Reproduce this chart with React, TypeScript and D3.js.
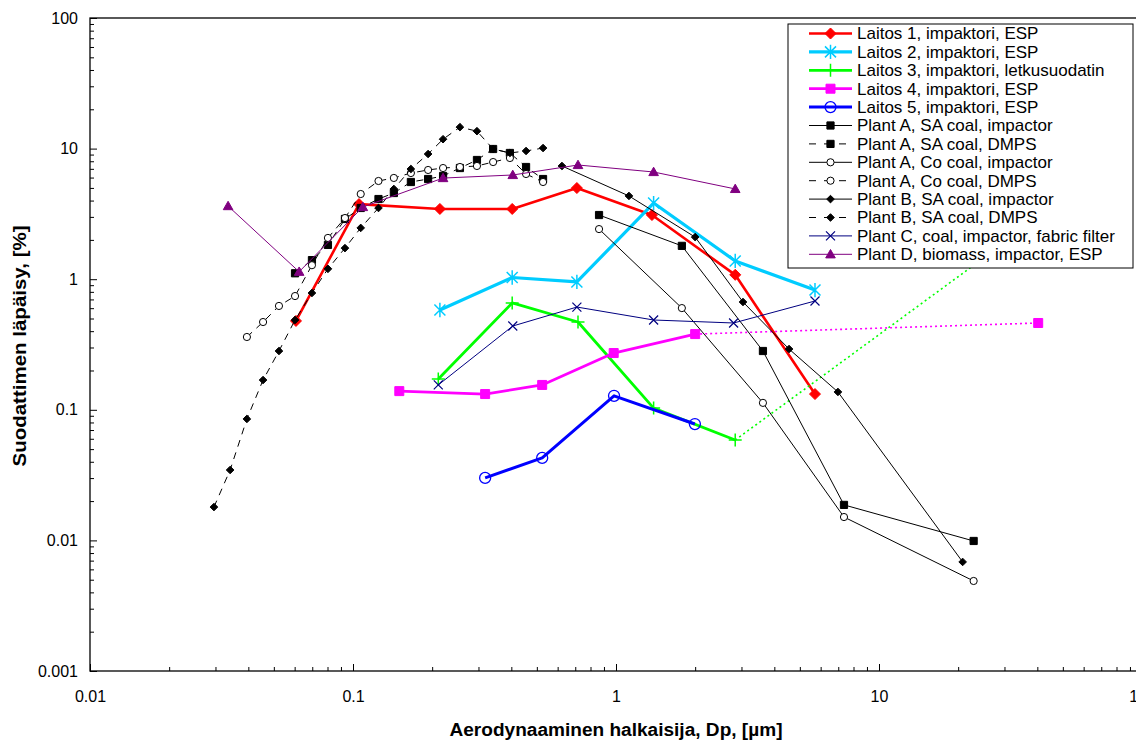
import React, { useEffect, useRef } from 'react';
import * as d3 from 'd3';

const width = 1136;
const height = 740;

// DMPS size channels (µm)
const dmpsDp = [0.0296, 0.0341, 0.0395, 0.0455, 0.0523, 0.0602, 0.0698, 0.0803, 0.0932, 0.107, 0.125,
  0.143, 0.166, 0.193, 0.220, 0.255, 0.296, 0.341, 0.395, 0.455, 0.528];

// Laitos 1-5 (impaktori)
const laitos1Dp = [0.0607, 0.1054, 0.214, 0.403, 0.71, 1.37, 2.84, 5.71];
const laitos1Pen = [0.479, 3.76, 3.45, 3.45, 4.99, 3.10, 1.08, 0.132];
const laitos2Dp = [0.214, 0.403, 0.71, 1.39, 2.84, 5.71];
const laitos2Pen = [0.581, 1.03, 0.953, 3.83, 1.38, 0.826];
const laitos3Dp = [0.211, 0.403, 0.717, 1.39, 2.84];
const laitos3Pen = [0.172, 0.658, 0.470, 0.103, 0.0587];
const laitos3TailDp = [2.84, 40.3];
const laitos3TailPen = [0.0587, 2.94];
const laitos4Dp = [0.150, 0.318, 0.524, 0.98, 2.0];
const laitos4Pen = [0.139, 0.132, 0.155, 0.272, 0.380];
const laitos4TailDp = [2.0, 40.3];
const laitos4TailPen = [0.380, 0.462];
const laitos5Dp = [0.318, 0.524, 0.983, 1.995];
const laitos5Pen = [0.0301, 0.0428, 0.128, 0.0778];

// literature plants
const plantAImpDp = [0.862, 1.78, 3.62, 7.36, 22.9];
const plantASaImpPen = [3.10, 1.80, 0.282, 0.0187, 0.0099];
const plantACoImpPen = [2.42, 0.601, 0.113, 0.0151, 0.00489];
const plantASaDmpsPen = [1.11, 1.40, 1.83, 2.89, 3.51, 4.11, 4.57, 5.55, 5.85, 6.17, 7.10, 8.18, 9.93, 9.26, 7.23, 5.85];
const plantACoDmpsPen = [0.361, 0.470, 0.624, 0.743, 1.28, 2.07, 2.94, 4.49, 5.65, 5.96, 6.50, 6.86, 7.10, 7.23, 7.36, 7.89, 8.47, 6.39, 5.55];
const plantBImpDp = [0.623, 1.12, 2.00, 3.04, 4.55, 6.98, 20.8];
const plantBImpPen = [7.36, 4.34, 2.10, 0.669, 0.292, 0.137, 0.00684];
const plantBDmpsPen = [0.0180, 0.0346, 0.0851, 0.169, 0.282, 0.487, 0.784, 1.20, 1.73, 2.47, 3.51, 4.91, 6.98,
  9.09, 11.8, 14.6, 13.6, 9.93, 9.26, 9.59, 10.1];
const plantCDp = [0.211, 0.405, 0.71, 1.39, 2.80, 5.71];
const plantCPen = [0.155, 0.438, 0.612, 0.487, 0.462, 0.681];
const plantDDp = [0.0335, 0.0624, 0.109, 0.220, 0.405, 0.717, 1.39, 2.84];
const plantDPen = [3.63, 1.14, 3.57, 5.95, 6.28, 7.49, 6.62, 4.91];

const seriesNames = [
  'Laitos 1, impaktori, ESP',
  'Laitos 2, impaktori, ESP',
  'Laitos 3, impaktori, letkusuodatin',
  'Laitos 4, impaktori, ESP',
  'Laitos 5, impaktori, ESP',
  'Plant A, SA coal, impactor',
  'Plant A, SA coal, DMPS',
  'Plant A, Co coal, impactor',
  'Plant A, Co coal, DMPS',
  'Plant B, SA coal, impactor',
  'Plant B, SA coal, DMPS',
  'Plant C, coal, impactor, fabric filter',
  'Plant D, biomass, impactor, ESP',
];

const yTicks = [0.001, 0.01, 0.1, 1, 10, 100];
const xTicks = [0.01, 0.1, 1, 10, 100];

type Marker = 'diamond' | 'square' | 'circle' | 'triangle' | 'plus' | 'x' | 'star';
interface Series {
  name: string; x: number[]; y: number[]; color: string; lw: number; dash: string | null;
  marker: Marker; ms: number; fill: string; msw: number;
  tail?: { x: number[]; y: number[] };
}

function markerPath(m: Marker, s: number) {
  switch (m) {
    case 'diamond': return `M0,${-s}L${s},0L0,${s}L${-s},0Z`;
    case 'square': return `M${-s},${-s}h${2 * s}v${2 * s}h${-2 * s}Z`;
    case 'triangle': return `M0,${-s}L${s},${s * 0.75}L${-s},${s * 0.75}Z`;
    case 'plus': return `M${-s},0H${s}M0,${-s}V${s}`;
    case 'x': return `M${-s},${-s}L${s},${s}M${-s},${s}L${s},${-s}`;
    case 'star': return `M${-s},${-s}L${s},${s}M${-s},${s}L${s},${-s}M0,${-s * 1.3}V${s * 1.3}`;
    default: return `M${s},0A${s},${s} 0 1,1 ${-s},0A${s},${s} 0 1,1 ${s},0Z`;
  }
}

const series: Series[] = [
  { name: seriesNames[0], x: laitos1Dp, y: laitos1Pen, color: '#FF0000', lw: 2.6, dash: null, marker: 'diamond', ms: 5.5, fill: '#FF0000', msw: 1 },
  { name: seriesNames[1], x: laitos2Dp, y: laitos2Pen, color: '#00CCFF', lw: 3.2, dash: null, marker: 'star', ms: 5.5, fill: 'none', msw: 1.5 },
  { name: seriesNames[2], x: laitos3Dp, y: laitos3Pen, color: '#00FF00', lw: 2.8, dash: null, marker: 'plus', ms: 6.5, fill: 'none', msw: 1.5,
    tail: { x: laitos3TailDp, y: laitos3TailPen } },
  { name: seriesNames[3], x: laitos4Dp, y: laitos4Pen, color: '#FF00FF', lw: 2.8, dash: null, marker: 'square', ms: 4.5, fill: '#FF00FF', msw: 1,
    tail: { x: laitos4TailDp, y: laitos4TailPen } },
  { name: seriesNames[4], x: laitos5Dp, y: laitos5Pen, color: '#0000FF', lw: 3, dash: null, marker: 'circle', ms: 5.5, fill: 'none', msw: 1.3 },
  { name: seriesNames[5], x: plantAImpDp, y: plantASaImpPen, color: '#000000', lw: 1, dash: null, marker: 'square', ms: 3.6, fill: '#000000', msw: 1 },
  { name: seriesNames[6], x: dmpsDp.slice(5), y: plantASaDmpsPen, color: '#000000', lw: 1, dash: '7,6', marker: 'square', ms: 3.6, fill: '#000000', msw: 1 },
  { name: seriesNames[7], x: plantAImpDp, y: plantACoImpPen, color: '#000000', lw: 1, dash: null, marker: 'circle', ms: 3.6, fill: '#FFFFFF', msw: 1 },
  { name: seriesNames[8], x: dmpsDp.slice(2), y: plantACoDmpsPen, color: '#000000', lw: 1, dash: '7,6', marker: 'circle', ms: 3.6, fill: '#FFFFFF', msw: 1 },
  { name: seriesNames[9], x: plantBImpDp, y: plantBImpPen, color: '#000000', lw: 1, dash: null, marker: 'diamond', ms: 3.8, fill: '#000000', msw: 1 },
  { name: seriesNames[10], x: dmpsDp, y: plantBDmpsPen, color: '#000000', lw: 1, dash: '7,6', marker: 'diamond', ms: 3.8, fill: '#000000', msw: 1 },
  { name: seriesNames[11], x: plantCDp, y: plantCPen, color: '#000080', lw: 1, dash: null, marker: 'x', ms: 4.5, fill: 'none', msw: 1.2 },
  { name: seriesNames[12], x: plantDDp, y: plantDPen, color: '#800080', lw: 1, dash: null, marker: 'triangle', ms: 4.8, fill: '#800080', msw: 1 },
];

const FONT = 'Arial, "Liberation Sans", sans-serif';

export default function App() {
  const svgRef = useRef<SVGSVGElement>(null);

  useEffect(() => {
    const svg = d3.select(svgRef.current);
    svg.selectAll('*').remove();

    const x = d3.scaleLog().domain([0.01, 100]).range([90, 1142]);
    const y = d3.scaleLog().domain([0.001, 100]).range([671, 18]);

    svg.append('rect').attr('width', width).attr('height', height).attr('fill', '#fff');

    // minor ticks
    const minorY: number[] = [];
    const minorX: number[] = [];
    for (let d = 0.001; d < 100; d *= 10) for (let k = 2; k < 10; k++) minorY.push(+(d * k).toPrecision(3));
    for (let d = 0.01; d < 100; d *= 10) for (let k = 2; k < 10; k++) minorX.push(+(d * k).toPrecision(3));

    const gyMinor = svg.append('g').attr('transform', 'translate(90,0)')
      .call(d3.axisLeft(y).tickValues(minorY).tickSize(-4).tickFormat(() => ''));
    const gy = svg.append('g').attr('transform', 'translate(90,0)')
      .call(d3.axisLeft(y).tickValues(yTicks).tickSize(-7).tickSizeOuter(0).tickPadding(12).tickFormat(d => String(d)));
    const gxMinor = svg.append('g').attr('transform', 'translate(0,671)')
      .call(d3.axisBottom(x).tickValues(minorX).tickSize(-4).tickFormat(() => ''));
    const gx = svg.append('g').attr('transform', 'translate(0,671)')
      .call(d3.axisBottom(x).tickValues(xTicks).tickSize(-7).tickSizeOuter(0).tickPadding(20).tickFormat(d => String(d)));

    [gyMinor, gy, gxMinor, gx].forEach(g => {
      g.select('.domain').remove();
      g.selectAll('line').attr('stroke', '#000').attr('stroke-width', 1);
      g.selectAll('text').attr('font-family', FONT).attr('font-size', 16).attr('fill', '#000');
    });

    // frame
    svg.append('rect').attr('x', 90).attr('y', 18).attr('width', 1052).attr('height', 653)
      .attr('fill', 'none').attr('stroke', '#000').attr('stroke-width', 1.3);

    const line = d3.line<[number, number]>().x(d => x(d[0])).y(d => y(d[1]));
    const plot = svg.append('g');

    series.forEach(s => {
      const pts = s.x.map((v, i) => [v, s.y[i]] as [number, number]);
      const g = plot.append('g');
      if (s.tail) {
        const tp = s.tail.x.map((v, i) => [v, s.tail!.y[i]] as [number, number]);
        g.append('path').attr('d', line(tp)).attr('fill', 'none').attr('stroke', s.color)
          .attr('stroke-width', 1.6).attr('stroke-dasharray', '2,3');
        g.append('path').attr('transform', `translate(${x(tp[1][0])},${y(tp[1][1])})`)
          .attr('d', markerPath(s.marker, s.ms)).attr('fill', s.fill).attr('stroke', s.color).attr('stroke-width', s.msw);
      }
      g.append('path').attr('d', line(pts)).attr('fill', 'none').attr('stroke', s.color)
        .attr('stroke-width', s.lw).attr('stroke-linejoin', 'round')
        .attr('stroke-dasharray', s.dash);
      g.selectAll('path.m').data(pts).enter().append('path').attr('class', 'm')
        .attr('transform', d => `translate(${x(d[0])},${y(d[1])})`)
        .attr('d', markerPath(s.marker, s.ms))
        .attr('fill', s.fill).attr('stroke', s.color).attr('stroke-width', s.msw);
    });

    // legend
    const lg = svg.append('g');
    lg.append('rect').attr('x', 788).attr('y', 24).attr('width', 345).attr('height', 244)
      .attr('fill', '#fff').attr('stroke', '#000').attr('stroke-width', 1);
    series.forEach((s, i) => {
      const cy = 33.5 + i * 18.4;
      lg.append('line').attr('x1', 809).attr('x2', 852).attr('y1', cy).attr('y2', cy)
        .attr('stroke', s.color).attr('stroke-width', s.lw).attr('stroke-dasharray', s.dash ? '7,8' : null);
      lg.append('path').attr('transform', `translate(830.5,${cy})`).attr('d', markerPath(s.marker, s.ms))
        .attr('fill', s.fill).attr('stroke', s.color).attr('stroke-width', s.msw);
      lg.append('text').attr('x', 857).attr('y', cy).attr('dy', '0.35em')
        .attr('font-family', FONT).attr('font-size', 17).attr('fill', '#000').text(s.name);
    });

    // axis titles
    svg.append('text').attr('x', 616).attr('y', 730).attr('dy', '0.35em').attr('text-anchor', 'middle')
      .attr('font-family', FONT).attr('font-weight', 'bold').attr('font-size', 18)
      .attr('textLength', 333).attr('lengthAdjust', 'spacingAndGlyphs')
      .text('Aerodynaaminen halkaisija, Dp, [µm]');
    svg.append('text').attr('transform', 'translate(20,346) rotate(-90)').attr('dy', '0.35em')
      .attr('text-anchor', 'middle').attr('font-family', FONT).attr('font-weight', 'bold').attr('font-size', 18)
      .attr('textLength', 241).attr('lengthAdjust', 'spacingAndGlyphs')
      .text('Suodattimen läpäisy, [%]');
  }, []);

  return (
    <svg ref={svgRef} width={width} height={height}
      style={{ position: 'absolute', left: 0, top: 0, display: 'block', background: '#fff' }} />
  );
}
